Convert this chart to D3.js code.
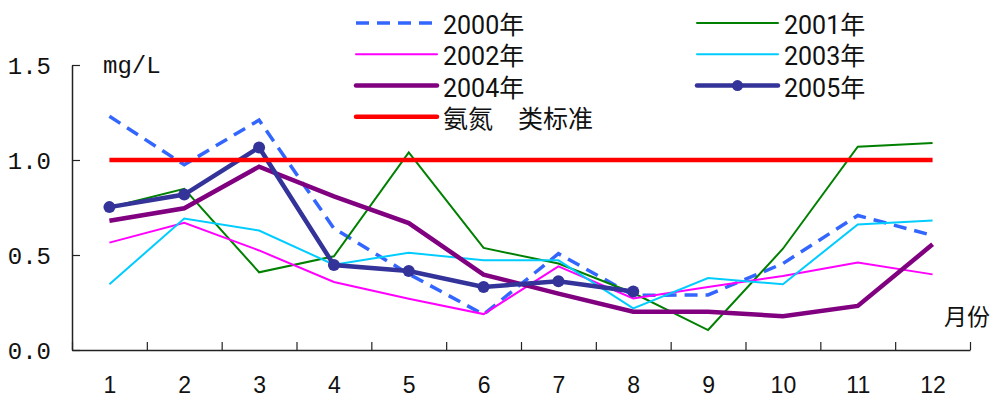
<!DOCTYPE html>
<html>
<head>
<meta charset="utf-8">
<script src="https://cdn.jsdelivr.net/npm/d3@7"></script>
<style>
  html, body { margin: 0; padding: 0; background: #fff; }
  svg { display: block; }
</style>
</head>
<body>
<svg id="chart" width="998" height="401"></svg>
<script>
// Monthly ammonia-nitrogen concentration (mg/L), 2000–2005
const months = [1, 2, 3, 4, 5, 6, 7, 8, 9, 10, 11, 12];
const v2000 = [1.23, 0.975, 1.21, 0.64, 0.40, 0.187, 0.507, 0.288, 0.29, 0.455, 0.708, 0.603];
const v2001 = [0.75, 0.848, 0.409, 0.493, 1.04, 0.537, 0.455, 0.30, 0.105, 0.533, 1.07, 1.09];
const v2002 = [0.565, 0.67, 0.524, 0.358, 0.27, 0.189, 0.44, 0.271, 0.332, 0.39, 0.46, 0.398];
const v2003 = [0.346, 0.692, 0.629, 0.449, 0.512, 0.472, 0.472, 0.219, 0.379, 0.346, 0.661, 0.682];
const v2004 = [0.68, 0.746, 0.965, 0.809, 0.668, 0.397, 0.297, 0.201, 0.201, 0.178, 0.232, 0.556];
const v2005 = [0.752, 0.818, 1.066, 0.447, 0.416, 0.332, 0.362, 0.308];
const standard = [1.0, 1.0, 1.0, 1.0, 1.0, 1.0, 1.0, 1.0, 1.0, 1.0, 1.0, 1.0];
const yTicks = [0, 0.5, 1.0, 1.5];
const seriesNames = ["2000年", "2001年", "2002年", "2003年", "2004年", "2005年", "氨氮　类标准"];
const yUnit = "mg/L";
const xTitle = "月份";

const series = [
  { name: seriesNames[0], values: v2000, color: "#3366FF", width: 3.5, dash: "13,8" },
  { name: seriesNames[1], values: v2001, color: "#008000", width: 2 },
  { name: seriesNames[2], values: v2002, color: "#FF00FF", width: 2 },
  { name: seriesNames[3], values: v2003, color: "#00CCFF", width: 2 },
  { name: seriesNames[4], values: v2004, color: "#800080", width: 4.5 },
  { name: seriesNames[5], values: v2005, color: "#333399", width: 4.5, marker: true },
  { name: seriesNames[6], values: standard, color: "#FF0000", width: 4.5 }
];

const svg = d3.select("#chart");
const plotLeft = 72, plotRight = 970, plotTop = 65, plotBottom = 350;

const x = d3.scaleLinear().domain([0.5, 12.5]).range([plotLeft, plotRight]);
const y = d3.scaleLinear().domain([0, 1.5]).range([plotBottom, plotTop]);

const monoFont = "'Liberation Mono', 'DejaVu Sans Mono', monospace";
const legendFont = "Roboto, 'Noto Sans CJK SC', sans-serif";
const cjkFont = "'Noto Sans CJK SC', 'Noto Sans', sans-serif";

// Y axis with inward ticks
const yAxis = svg.append("g")
  .attr("transform", `translate(${plotLeft},0)`)
  .call(d3.axisLeft(y).tickValues(yTicks).tickFormat(d3.format(".1f"))
    .tickSizeInner(-8).tickSizeOuter(0).tickPadding(21));
yAxis.select(".domain").attr("stroke", "#222").attr("stroke-width", 1.5);
yAxis.selectAll(".tick line").attr("stroke", "#222").attr("stroke-width", 1.2);
yAxis.selectAll(".tick text")
  .attr("font-family", monoFont).attr("font-size", 24).attr("fill", "#111")
  .attr("dy", "0.35em");

// X axis: tick marks between months, labels centred on months
const boundaries = d3.range(0.5, 12.51, 1);
const xAxis = svg.append("g")
  .attr("transform", `translate(0,${plotBottom})`)
  .call(d3.axisBottom(x).tickValues(boundaries).tickFormat("")
    .tickSizeInner(-8).tickSizeOuter(0));
xAxis.select(".domain").attr("stroke", "#222").attr("stroke-width", 1.5);
xAxis.selectAll(".tick line").attr("stroke", "#222").attr("stroke-width", 1.2);

const xLabels = svg.append("g")
  .attr("transform", `translate(0,${plotBottom})`)
  .call(d3.axisBottom(x).tickValues(months).tickFormat(d3.format("d"))
    .tickSize(0).tickPadding(27));
xLabels.select(".domain").remove();
xLabels.selectAll(".tick text")
  .attr("font-family", "'Liberation Sans Narrow', 'Arial Narrow', 'Liberation Sans', sans-serif")
  .attr("font-size", 23).attr("fill", "#111");

// Unit and axis title
svg.append("text").attr("x", 103).attr("y", 65).attr("dy", "0.35em")
  .attr("font-family", monoFont).attr("font-size", 24).attr("fill", "#111")
  .text(yUnit);
svg.append("text").attr("x", 944).attr("y", 317).attr("dy", "0.36em")
  .attr("font-family", cjkFont).attr("font-size", 23).attr("fill", "#111")
  .text(xTitle);

// Series lines
const line = d3.line().x((d, i) => x(months[i])).y(d => y(d));
const plot = svg.append("g");
series.forEach(s => {
  plot.append("path")
    .datum(s.values)
    .attr("fill", "none")
    .attr("stroke", s.color)
    .attr("stroke-width", s.width)
    .attr("stroke-dasharray", s.dash || null)
    .attr("stroke-linejoin", "miter")
    .attr("d", line);
  if (s.marker) {
    plot.selectAll(null).data(s.values).enter().append("circle")
      .attr("cx", (d, i) => x(months[i]))
      .attr("cy", d => y(d))
      .attr("r", 6)
      .attr("fill", s.color);
  }
});

// Legend: two columns, four rows
const legend = svg.append("g");
const colX = [356, 697];
const rowY = [23, 54.2, 85.6, 116.8];
const itemLen = 81;
series.forEach((s, i) => {
  const col = i === 6 ? 0 : i % 2;
  const row = i === 6 ? 3 : Math.floor(i / 2);
  const gx = colX[col], gy = rowY[row];
  legend.append("line")
    .attr("x1", gx).attr("x2", gx + itemLen)
    .attr("y1", gy).attr("y2", gy)
    .attr("stroke", s.color)
    .attr("stroke-width", s.width)
    .attr("stroke-dasharray", s.dash || null)
    .attr("stroke-linecap", s.dash ? "butt" : "round");
  if (s.marker) {
    legend.append("circle").attr("cx", gx + itemLen / 2).attr("cy", gy)
      .attr("r", 5.5).attr("fill", s.color);
  }
  legend.append("text")
    .attr("x", gx + itemLen + 6).attr("y", gy + 2).attr("dy", "0.36em")
    .attr("font-family", legendFont).attr("font-size", 25).attr("fill", "#111")
    .text(s.name);
});
</script>
</body>
</html>
